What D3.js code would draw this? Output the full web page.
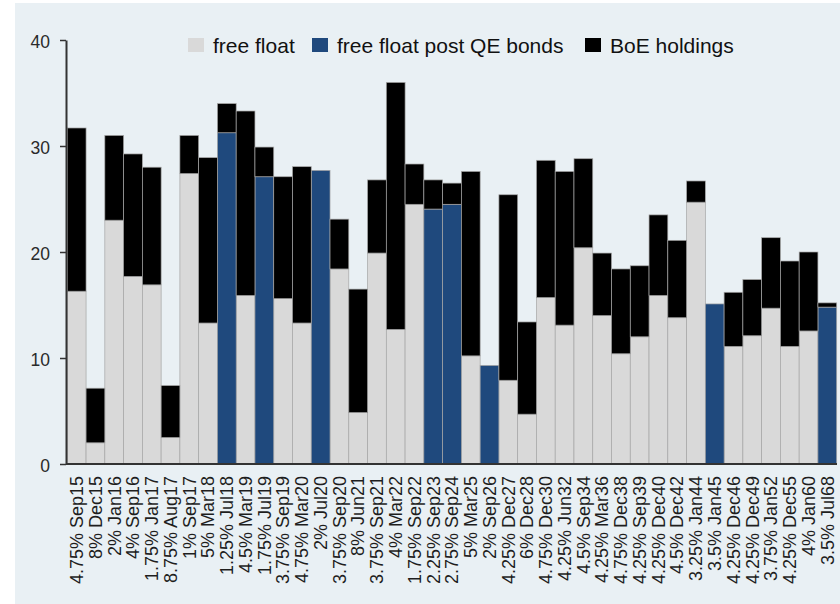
<!DOCTYPE html>
<html>
<head>
<meta charset="utf-8">
<script src="https://cdn.jsdelivr.net/npm/d3@7"></script>
<style>
  html, body { margin: 0; padding: 0; background: #ffffff; }
  svg { display: block; }
  text { font-family: "Liberation Sans", Arial, sans-serif; }
</style>
</head>
<body>
<svg id="chart" width="840" height="604"></svg>
<script>
const categories = [
  "4.75% Sep15","8% Dec15","2% Jan16","4% Sep16","1.75% Jan17","8.75% Aug17","1% Sep17","5% Mar18",
  "1.25% Jul18","4.5% Mar19","1.75% Jul19","3.75% Sep19","4.75% Mar20","2% Jul20","3.75% Sep20","8% Jun21",
  "3.75% Sep21","4% Mar22","1.75% Sep22","2.25% Sep23","2.75% Sep24","5% Mar25","2% Sep26","4.25% Dec27",
  "6% Dec28","4.75% Dec30","4.25% Jun32","4.5% Sep34","4.25% Mar36","4.75% Dec38","4.25% Sep39","4.25% Dec40",
  "4.5% Dec42","3.25% Jan44","3.5% Jan45","4.25% Dec46","4.25% Dec49","3.75% Jan52","4.25% Dec55","4% Jan60",
  "3.5% Jul68"
];
// free float (grey)
const freeFloat = [
  16.3, 2.0, 23.0, 17.7, 16.9, 2.5, 27.4, 13.3,
  0, 15.9, 0, 15.6, 13.3, 0, 18.4, 4.85,
  19.9, 12.7, 24.5, 0, 0, 10.2, 0, 7.9,
  4.7, 15.7, 13.1, 20.4, 14.0, 10.4, 12.0, 15.9,
  13.8, 24.7, 0, 11.1, 12.1, 14.7, 11.1, 12.55,
  0
];
// free float post QE bonds (blue)
const freeFloatPostQE = [
  0, 0, 0, 0, 0, 0, 0, 0,
  31.25, 0, 27.1, 0, 0, 27.7, 0, 0,
  0, 0, 0, 24.05, 24.5, 0, 9.3, 0,
  0, 0, 0, 0, 0, 0, 0, 0,
  0, 0, 15.1, 0, 0, 0, 0, 0,
  14.8
];
// BoE holdings (black)
const boeHoldings = [
  15.4, 5.15, 8.0, 11.55, 11.1, 4.9, 3.6, 15.6,
  2.75, 17.4, 2.8, 11.5, 14.75, 0, 4.7, 11.65,
  6.9, 23.3, 3.8, 2.75, 2.0, 17.4, 0, 17.5,
  8.7, 12.95, 14.5, 8.4, 5.9, 8.0, 6.7, 7.6,
  7.3, 2.0, 0, 5.1, 5.3, 6.65, 8.05, 7.45,
  0.4
];
const yTicks = [0, 10, 20, 30, 40];
const seriesNames = ["free float", "free float post QE bonds", "BoE holdings"];
const seriesKeys = ["ff", "qe", "boe"];
const seriesColors = ["#d9d9d9", "#1f497d", "#000000"];

const rows = categories.map((c, i) => ({
  cat: c, ff: freeFloat[i], qe: freeFloatPostQE[i], boe: boeHoldings[i]
}));

const svg = d3.select("#chart");
svg.append("rect").attr("x", 15).attr("y", 3).attr("width", 825).attr("height", 601)
  .attr("fill", "#e9f0f4");

const x = d3.scaleBand().domain(categories).range([67.3, 836.7]).padding(0);
const y = d3.scaleLinear().domain([0, 40]).range([464, 40]);
const color = d3.scaleOrdinal().domain(seriesKeys).range(seriesColors);

const stacked = d3.stack().keys(seriesKeys)(rows);

svg.append("g").selectAll("g").data(stacked).join("g")
  .attr("fill", d => color(d.key))
  .selectAll("rect")
  .data(d => d.filter(s => s[1] - s[0] > 0))
  .join("rect")
  .attr("x", d => x(d.data.cat))
  .attr("width", x.bandwidth())
  .attr("y", d => y(d[1]))
  .attr("height", d => y(d[0]) - y(d[1]))
  .attr("stroke", "#a6a6a6")
  .attr("stroke-width", 0.7);

// y axis
const yAxis = svg.append("g").attr("transform", "translate(66,0)")
  .call(d3.axisLeft(y).tickValues(yTicks).tickSize(6).tickSizeOuter(0).tickPadding(10));
yAxis.select(".domain").attr("stroke", "#333").attr("stroke-width", 2);
yAxis.selectAll(".tick line").attr("stroke", "#333").attr("stroke-width", 1.5);
yAxis.selectAll(".tick text").attr("font-size", 17.5).attr("fill", "#2a2a2a")
  .attr("dy", "0.4em")
  .style("font-family", "'Liberation Sans', Arial, sans-serif");

// x axis
const xAxis = svg.append("g").attr("transform", "translate(0,464)")
  .call(d3.axisBottom(x).tickSize(0).tickSizeOuter(0).tickPadding(0));
xAxis.select(".domain").attr("stroke", "#333").attr("stroke-width", 2)
  .attr("d", "M66,0H837");
xAxis.selectAll(".tick text")
  .attr("font-size", 18).attr("fill", "#1e1e1e")
  .style("font-family", "'Liberation Sans', Arial, sans-serif")
  .attr("text-anchor", "end")
  .attr("dy", null).attr("y", null)
  .attr("transform", "translate(6.3,12) rotate(-90)");

// legend
const legendX = [188, 312, 585];
const lg = svg.append("g");
seriesNames.forEach((name, i) => {
  lg.append("rect").attr("x", legendX[i]).attr("y", 38).attr("width", 16).attr("height", 14)
    .attr("fill", seriesColors[i]);
  lg.append("text").attr("x", legendX[i] + 25).attr("y", 52.5)
    .attr("font-size", 21).attr("fill", "#111").text(name);
});
</script>
</body>
</html>
